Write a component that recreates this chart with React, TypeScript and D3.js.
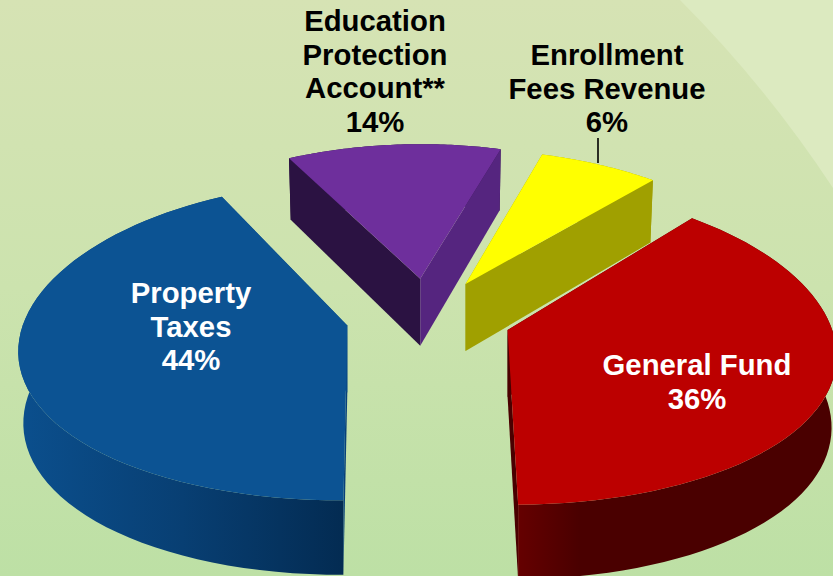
import React from "react";
import * as d3 from "d3";

// Slices clockwise from the purple one.
const sliceNames = ["Education Protection Account**", "Enrollment Fees Revenue", "General Fund", "Property Taxes"];
const labelledPercents = [14, 6, 36, 44];
// Sweep of each slice as it appears on the tilted disc (degrees).
const drawnSweeps = [44.7, 24.8, 138, 152.5];
const explosions = [0.255, 0.248, 0.259, 0.255];
// Extra height the far side of the big slices gains from the camera's perspective.
const farLift = [0, 0, 9, 9];
const topColors = ["#6E2F9C", "#FFFF00", "#BC0000", "#0C5393"];
const sideColors = ["#2B1242", "#A0A000", "#4A0000", "#08407A"];
const farSideColors = ["#55257F", "#A0A000", "#4A0000", "#0A4A88"];

const W = 833, H = 576;
const CX = 428, CY = 316, RX = 323, RY = 152, PX = 0.17, PY = 0.13, SHEAR = 0.09;
const DEPTH = 67, DEPTH_Q = 0.1, BOTTOM_SCALE = 0.985;
const START = (-28 * Math.PI) / 180;

const pie = d3.pie<number>().sort(null).startAngle(START).endAngle(START + 2 * Math.PI).value((d) => d);
const arcs = pie(drawnSweeps);
const line = d3.line<[number, number]>();

function project(a: number, r: number): [number, number] {
  const u = Math.sin(a) * r, v = Math.cos(a) * r;
  return [(RX * u) / (1 + PX * v), (-RY * v) / (1 + PY * v)];
}

function buildSlice(i: number) {
  const { startAngle: a0, endAngle: a1 } = arcs[i];
  const mid = (a0 + a1) / 2;
  const [ex, ey] = project(mid, explosions[i]);
  const ax = CX + ex, ay = CY + ey;
  const top = (a: number): [number, number] => {
    const [x, y] = project(a, 1);
    const lift = (farLift[i] * (1 + Math.cos(a))) / 2;
    return [ax + x - ex * SHEAR * Math.cos(a), ay + y - lift];
  };
  const bottom = (a: number): [number, number] => {
    const [x] = project(a, BOTTOM_SCALE);
    const [, y] = project(a, 1);
    return [ax + x - ex * SHEAR * Math.cos(a), ay + y + DEPTH / (1 + DEPTH_Q * Math.cos(a))];
  };
  const steps = d3.range(0, 61).map((k) => a0 + ((a1 - a0) * k) / 60);
  const topRim = steps.map((a) => top(a));
  const botRim = steps.map((a) => bottom(a));
  const apexT: [number, number] = [ax, ay];
  const apexB: [number, number] = [ax, ay + DEPTH];
  return {
    top: line([apexT, ...topRim]) + "Z",
    rim: line([...topRim, ...botRim.slice().reverse()]) + "Z",
    wall0: line([apexT, topRim[0], botRim[0], apexB]) + "Z",
    wall1: line([apexT, topRim[60], botRim[60], apexB]) + "Z",
  };
}

const labelStyle: React.CSSProperties = {
  fontFamily: "'Liberation Sans', Arial, sans-serif",
  fontWeight: 700,
  fontSize: 29.3,
  textAnchor: "middle",
};

const labels = [
  { x: 375, y: 31, fill: "#000", lines: ["Education", "Protection", "Account**", `${labelledPercents[0]}%`] },
  { x: 607, y: 65, fill: "#000", lines: ["Enrollment", "Fees Revenue", `${labelledPercents[1]}%`] },
  { x: 697, y: 375, fill: "#fff", lines: ["General Fund", `${labelledPercents[2]}%`] },
  { x: 191, y: 303, fill: "#fff", lines: ["Property", "Taxes", `${labelledPercents[3]}%`] },
];

export default function App() {
  const slices = sliceNames.map((_, i) => buildSlice(i));
  const drawOrder = [0, 1, 3, 2];
  return (
    <svg
      width={W}
      height={H}
      viewBox={`0 0 ${W} ${H}`}
      style={{ position: "fixed", left: 0, top: 0, display: "block" }}
    >
      <defs>
        <linearGradient id="bg" x1="0" y1="0" x2="0" y2="1">
          <stop offset="0" stopColor="#D6E3B4" />
          <stop offset="0.5" stopColor="#CCE3AE" />
          <stop offset="1" stopColor="#BDE0A5" />
        </linearGradient>
        <linearGradient id="rimBlue" gradientUnits="userSpaceOnUse" x1={20} y1={0} x2={345} y2={0}>
          <stop offset="0" stopColor="#0B4F8D" />
          <stop offset="0.5" stopColor="#083F73" />
          <stop offset="0.8" stopColor="#05335F" />
          <stop offset="1" stopColor="#032B52" />
        </linearGradient>
        <linearGradient id="rimRed" gradientUnits="userSpaceOnUse" x1={516} y1={0} x2={833} y2={0}>
          <stop offset="0" stopColor="#660000" />
          <stop offset="0.2" stopColor="#4A0000" />
          <stop offset="1" stopColor="#4A0000" />
        </linearGradient>
      </defs>
      <rect width={W} height={H} fill="url(#bg)" />
      <path d={`M680,0 Q765,85 833,188 L833,0 Z`} fill="#DCEAC0" />
      <line x1={598} y1={138} x2={598} y2={163} stroke="#000" strokeWidth={1.6} />
      {drawOrder.map((i) => {
        const s = slices[i];
        const rimFill = i === 3 ? "url(#rimBlue)" : i === 2 ? "url(#rimRed)" : sideColors[i];
        return (
          <g key={sliceNames[i]}>
            <path d={s.rim} fill={rimFill} />
            <path d={s.wall0} fill={sideColors[i]} />
            <path d={s.wall1} fill={i === 0 ? farSideColors[i] : i === 3 ? farSideColors[i] : sideColors[i]} />
            <path d={s.top} fill={topColors[i]} />
          </g>
        );
      })}
      {labels.map((l) => (
        <text key={l.lines[0]} x={l.x} y={l.y} style={labelStyle} fill={l.fill}>
          {l.lines.map((t, k) => (
            <tspan key={k} x={l.x} dy={k === 0 ? 0 : 33.7}>
              {t}
            </tspan>
          ))}
        </text>
      ))}
    </svg>
  );
}
